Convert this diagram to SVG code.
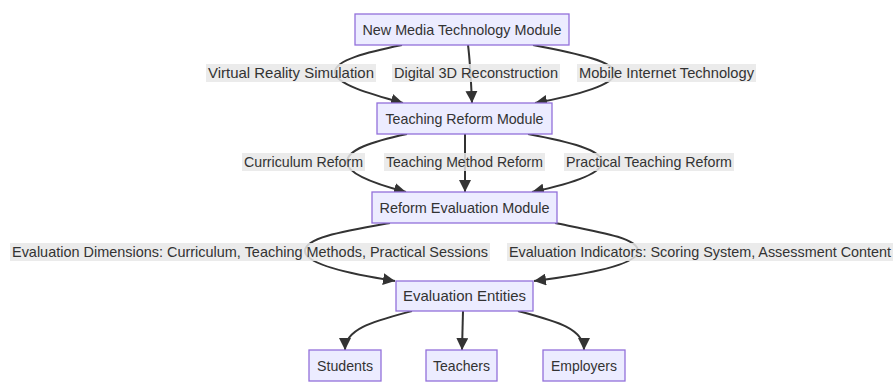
<svg xmlns="http://www.w3.org/2000/svg" width="895" height="382" viewBox="0 0 895 382">
  <style>
    .node rect { fill: #ECECFF; stroke: #9370DB; stroke-width: 1.3; }
    .node text, .label text { font-family: "Liberation Sans", Arial, sans-serif; font-size: 14.5px; fill: #333; text-anchor: middle; dominant-baseline: central; }
    .edge { fill: none; stroke: #333; stroke-width: 2; }
    .label rect { fill: #e8e8e8; opacity: 0.85; }
  </style>
  <defs>
    <marker id="arrow" viewBox="0 0 10 10" refX="10" refY="5" markerUnits="userSpaceOnUse" markerWidth="12" markerHeight="12" orient="auto">
      <path d="M0,0 L10,5 L0,10 z" fill="#333"/>
    </marker>
  </defs>

  <!-- connectors -->
  <g id="edges">
    <path class="edge" marker-end="url(#arrow)" d="M402,45 C368,52 335,60 335,72 C335,84 370,94 403,103"/>
    <path class="edge" marker-end="url(#arrow)" d="M468,45 C470,60 471,80 472,103"/>
    <path class="edge" marker-end="url(#arrow)" d="M533,45 C580,54 615,62 615,73 C615,84 580,95 535,103"/>

    <path class="edge" marker-end="url(#arrow)" d="M407,134 C370,142 347,150 347,162 C347,174 375,184 406,192"/>
    <path class="edge" marker-end="url(#arrow)" d="M465,134 L465,192"/>
    <path class="edge" marker-end="url(#arrow)" d="M528,134 C570,142 602,150 602,162 C602,174 570,184 532,192"/>

    <path class="edge" marker-end="url(#arrow)" d="M390,223 C340,232 305,238 305,251 C305,264 350,274 395,281"/>
    <path class="edge" marker-end="url(#arrow)" d="M555,223 C600,232 638,238 638,251 C638,264 590,274 534,281"/>

    <path class="edge" marker-end="url(#arrow)" d="M412,311 C375,321 345,328 345,350"/>
    <path class="edge" marker-end="url(#arrow)" d="M463,311 L462,350"/>
    <path class="edge" marker-end="url(#arrow)" d="M518,311 C555,321 584,328 584,350"/>
  </g>

  <!-- edge labels -->
  <g id="edge-labels">
    <g class="label"><rect x="206" y="64" width="170" height="18"/><text x="291" y="73" textLength="166" lengthAdjust="spacingAndGlyphs">Virtual Reality Simulation</text></g>
    <g class="label"><rect x="392" y="64" width="168" height="18"/><text x="476" y="73" textLength="164" lengthAdjust="spacingAndGlyphs">Digital 3D Reconstruction</text></g>
    <g class="label"><rect x="577" y="64" width="179" height="18"/><text x="666.5" y="73" textLength="175" lengthAdjust="spacingAndGlyphs">Mobile Internet Technology</text></g>

    <g class="label"><rect x="242" y="153" width="123" height="18"/><text x="303.5" y="162" textLength="119" lengthAdjust="spacingAndGlyphs">Curriculum Reform</text></g>
    <g class="label"><rect x="384" y="153" width="161" height="18"/><text x="464.5" y="162" textLength="157" lengthAdjust="spacingAndGlyphs">Teaching Method Reform</text></g>
    <g class="label"><rect x="564" y="153" width="170" height="18"/><text x="649" y="162" textLength="166" lengthAdjust="spacingAndGlyphs">Practical Teaching Reform</text></g>

    <g class="label"><rect x="10" y="243" width="480" height="18"/><text x="250" y="252" textLength="476" lengthAdjust="spacingAndGlyphs">Evaluation Dimensions: Curriculum, Teaching Methods, Practical Sessions</text></g>
    <g class="label"><rect x="507" y="243" width="386" height="18"/><text x="700" y="252" textLength="382" lengthAdjust="spacingAndGlyphs">Evaluation Indicators: Scoring System, Assessment Content</text></g>
  </g>

  <!-- nodes -->
  <g id="new-media" class="node"><rect x="355" y="14" width="214" height="31"/><text x="462" y="29.5" textLength="199" lengthAdjust="spacingAndGlyphs">New Media Technology Module</text></g>
  <g id="teaching-reform" class="node"><rect x="377" y="103" width="175" height="31"/><text x="464.5" y="118.5" textLength="158" lengthAdjust="spacingAndGlyphs">Teaching Reform Module</text></g>
  <g id="reform-evaluation" class="node"><rect x="372" y="192" width="185" height="31"/><text x="464.5" y="207.5" textLength="170" lengthAdjust="spacingAndGlyphs">Reform Evaluation Module</text></g>
  <g id="evaluation-entities" class="node"><rect x="396" y="281" width="137" height="30"/><text x="464.5" y="296" textLength="123" lengthAdjust="spacingAndGlyphs">Evaluation Entities</text></g>
  <g id="students" class="node"><rect x="309" y="350" width="72" height="31"/><text x="345" y="365.5" textLength="56" lengthAdjust="spacingAndGlyphs">Students</text></g>
  <g id="teachers" class="node"><rect x="426" y="350" width="71" height="31"/><text x="461.5" y="365.5" textLength="57" lengthAdjust="spacingAndGlyphs">Teachers</text></g>
  <g id="employers" class="node"><rect x="543" y="350" width="82" height="31"/><text x="584" y="365.5" textLength="66" lengthAdjust="spacingAndGlyphs">Employers</text></g>
</svg>
